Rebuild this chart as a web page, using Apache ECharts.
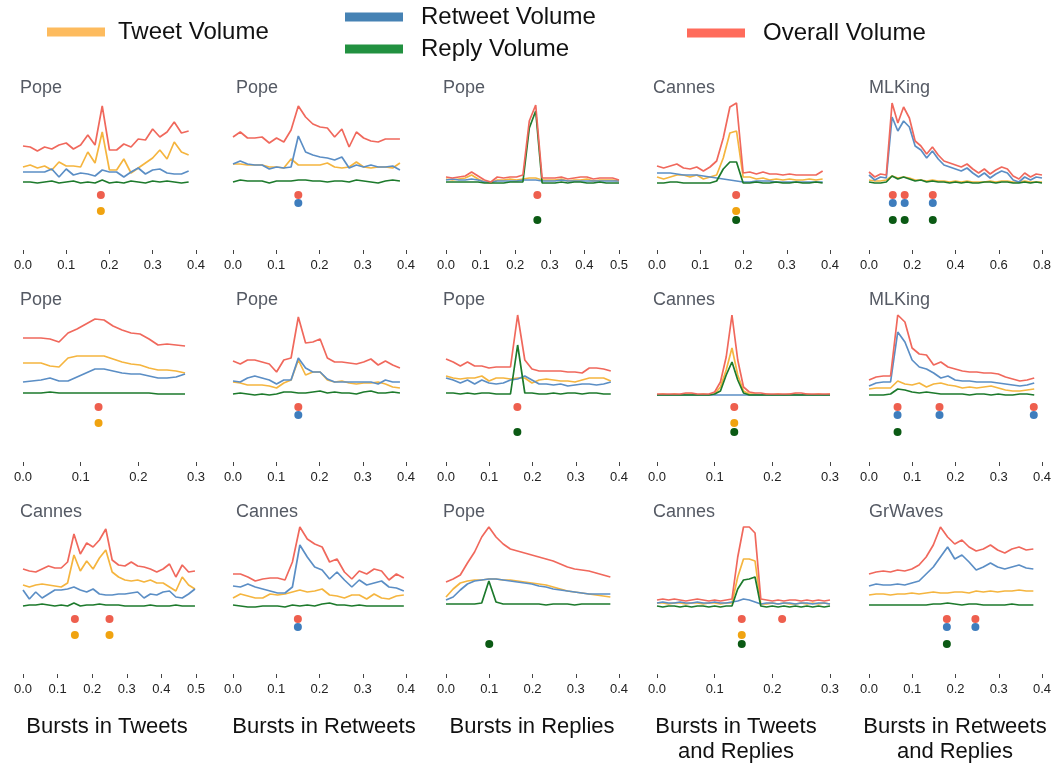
<!DOCTYPE html>
<html>
<head>
<meta charset="utf-8">
<script src="https://cdn.jsdelivr.net/npm/echarts@6/dist/echarts.min.js"></script>
<style>
html,body{margin:0;padding:0;background:#fff;}
#chart{width:1064px;height:765px;}
</style>
</head>
<body>
<div id="chart"></div>
<script>
// ---------------- DATA (volumes, arbitrary units) ----------------
const TOPICS = [
  ['Pope', 'Pope', 'Pope', 'Cannes', 'MLKing'],
  ['Pope', 'Pope', 'Pope', 'Cannes', 'MLKing'],
  ['Cannes', 'Cannes', 'Pope', 'Cannes', 'GrWaves']
];
const AXIS_MAX = [
  [0.4, 0.4, 0.5, 0.4, 0.8],
  [0.3, 0.4, 0.4, 0.3, 0.4],
  [0.5, 0.4, 0.4, 0.3, 0.4]
];
const AXIS_STEP = [
  [0.1, 0.1, 0.1, 0.1, 0.2],
  [0.1, 0.1, 0.1, 0.1, 0.1],
  [0.1, 0.1, 0.1, 0.1, 0.1]
];
// last observed time of each panel's series (series sampled evenly from 0)
const SPAN_END = [
  [0.383, 0.386, 0.5, 0.383, 0.8],
  [0.281, 0.386, 0.381, 0.3, 0.382],
  [0.497, 0.395, 0.38, 0.3, 0.38]
];
const COLUMN_LABELS = ['Bursts in Tweets', 'Bursts in Retweets', 'Bursts in Replies',
  'Bursts in Tweets\nand Replies', 'Bursts in Retweets\nand Replies'];
const SERIES_NAMES = ['Tweet Volume', 'Retweet Volume', 'Reply Volume', 'Overall Volume'];

// Row 1
const r1c1Tweet   = [16,18,15,17,13,21,17,17,16,31,20,51,13,13,24,10,15,20,25,33,24,41,31,28];
const r1c1Retweet = [11,11,11,11,14,6,14,8,10,9,7,13,11,11,6,11,15,9,13,14,10,9,9,12];
const r1c1Reply   = [1,1,0,1,2,0,1,2,0,1,0,3,0,1,0,2,1,0,2,1,2,1,0,1];
const r1c1Overall = [37,36,32,36,34,38,40,34,38,48,38,77,33,33,39,36,44,43,54,46,51,61,50,52];
const r1c1Bursts  = {overall:[0.18], tweet:[0.18], retweet:[], reply:[]};

const r1c2Tweet   = [19,19,18,18,18,16,16,15,24,18,18,18,18,20,16,15,16,21,16,15,16,16,15,20];
const r1c2Retweet = [19,22,19,18,18,14,16,15,16,47,31,28,26,25,23,26,15,18,16,18,16,16,17,13];
const r1c2Reply   = [1,3,2,2,2,0,2,2,2,3,3,2,2,1,2,2,1,3,2,1,0,2,3,2];
const r1c2Overall = [46,51,45,45,46,40,45,41,53,77,66,59,56,55,46,54,36,51,45,42,41,44,44,44];
const r1c2Bursts  = {overall:[0.151], tweet:[], retweet:[0.151], reply:[]};

const r1c3Tweet   = [4,3,4,5,8,4,1,0,3,3,4,3,4,5,5,3,3,3,4,2,3,3,4,2,3,3,3,2];
const r1c3Retweet = [3,4,3,3,4,3,1,1,2,2,2,2,3,3,3,2,2,2,3,2,2,2,2,2,2,2,2,2];
const r1c3Reply   = [1,1,1,1,1,1,0,0,0,0,1,1,1,55,72,0,0,0,1,0,1,1,0,0,1,0,0,0];
const r1c3Overall = [6,5,6,7,11,7,3,1,6,5,6,6,8,62,78,5,5,5,6,4,5,6,6,4,5,5,5,3];
const r1c3Bursts  = {overall:[0.264], tweet:[], retweet:[], reply:[0.264]};

const r1c4Tweet   = [6,4,6,8,8,6,8,4,6,8,25,50,52,6,6,4,5,3,4,3,4,3,3,4,3,4];
const r1c4Retweet = [10,10,10,9,8,8,8,7,6,5,4,3,2,1,1,2,2,2,1,1,1,1,1,1,1,1];
const r1c4Reply   = [0,0,1,1,0,0,0,0,0,2,14,21,21,0,0,1,0,0,1,0,0,1,0,0,1,0];
const r1c4Overall = [17,15,17,19,15,14,16,12,16,22,45,76,80,10,11,9,11,9,9,8,9,8,8,8,8,12];
const r1c4Bursts  = {overall:[0.183], tweet:[0.183], retweet:[], reply:[0.183]};

const r1c5Tweet   = [3,2,2,3,7,5,6,5,3,3,2,3,2,2,1,2,1,2,1,1,1,2,1,2,2,1,1,2,1,1,1];
const r1c5Retweet = [8,3,6,5,66,52,62,56,37,33,25,32,24,18,16,14,12,15,10,6,10,5,9,12,10,3,1,6,3,6,5];
const r1c5Reply   = [1,0,0,1,7,4,6,4,2,3,1,2,1,1,0,1,0,1,0,0,1,1,0,1,1,0,0,1,0,1,0];
const r1c5Overall = [11,6,9,8,80,60,76,65,42,37,29,36,28,22,20,18,16,19,14,10,14,9,13,16,14,7,4,10,6,9,8];
const r1c5Bursts  = {overall:[0.11,0.165,0.295], tweet:[], retweet:[0.11,0.165,0.295], reply:[0.11,0.165,0.295]};

// Row 2
const r2c1Tweet   = [32,32,32,29,28,37,39,39,39,39,36,33,31,30,27,25,25,24,22];
const r2c1Retweet = [13,14,15,17,14,14,18,22,26,26,24,22,21,21,19,17,17,18,21];
const r2c1Reply   = [2,2,2,3,2,2,2,2,2,2,2,2,2,2,2,1,1,1,1];
const r2c1Overall = [57,57,57,56,53,62,66,71,76,75,69,65,62,61,56,50,51,50,49];
const r2c1Bursts  = {overall:[0.131], tweet:[0.131], retweet:[], reply:[]};

const r2c2Tweet   = [13,12,10,10,10,9,7,12,15,35,20,23,23,15,13,14,12,11,12,12,13,11,8,7];
const r2c2Retweet = [14,13,17,19,17,15,11,15,15,37,27,23,23,16,13,13,13,13,13,13,11,15,13,13];
const r2c2Reply   = [1,2,1,0,1,0,1,3,3,2,2,3,4,2,3,2,2,1,3,4,2,2,3,2];
const r2c2Overall = [34,31,35,35,33,31,23,35,37,78,52,53,56,37,33,33,32,31,33,36,30,34,30,27];
const r2c2Bursts  = {overall:[0.151], tweet:[], retweet:[0.151], reply:[]};

const r2c3Tweet   = [19,17,16,17,17,19,14,17,17,16,17,17,12,15,16,15,14,14,13,15,17,17,17,14];
const r2c3Retweet = [17,15,12,15,11,15,12,11,12,15,16,19,15,11,11,10,11,9,10,11,11,10,11,13];
const r2c3Reply   = [2,2,1,2,1,2,2,1,1,1,50,2,2,1,1,2,1,2,2,1,2,2,1,1];
const r2c3Overall = [36,33,29,33,29,29,27,28,28,28,80,35,26,24,24,24,24,23,23,22,27,27,26,24];
const r2c3Bursts  = {overall:[0.165], tweet:[], retweet:[], reply:[0.165]};

const r2c4Tweet   = [0,1,0,1,0,1,1,0,1,0,1,8,25,47,20,4,1,1,0,1,0,1,0,1,1,0,1,0,1,0,1];
const r2c4Retweet = [0,0,0,0,0,0,0,0,0,0,0,0,0,0,0,0,0,0,0,0,0,0,0,0,0,0,0,0,0,0,0];
const r2c4Reply   = [0,0,0,0,0,0,0,0,0,0,1,4,20,33,15,2,0,0,0,0,0,0,0,0,0,0,0,0,0,0,0];
const r2c4Overall = [1,1,1,1,1,2,2,1,1,1,3,13,38,80,35,8,3,2,2,1,1,1,1,1,2,2,1,1,1,1,1];
const r2c4Bursts  = {overall:[0.134], tweet:[0.134], retweet:[], reply:[0.134]};

const r2c5Tweet   = [6,7,7,7,14,11,10,12,8,11,12,10,9,7,8,7,8,9,7,5,4,4,5,6];
const r2c5Retweet = [9,12,13,13,63,53,35,28,26,22,17,19,15,14,14,13,13,13,12,11,10,9,10,12];
const r2c5Reply   = [0,0,0,1,6,5,3,2,3,2,1,1,1,1,0,1,1,0,1,0,0,1,1,0];
const r2c5Overall = [15,18,19,19,80,73,47,41,40,30,33,28,26,24,23,23,22,22,21,18,16,14,15,17];
const r2c5Bursts  = {overall:[0.066,0.163,0.381], tweet:[], retweet:[0.066,0.163,0.381], reply:[0.066]};

// Row 3
const r3c1Tweet   = [22,20,22,23,22,21,20,24,52,36,46,38,49,57,35,30,27,26,27,25,27,24,24,20,16,30,22,18];
const r3c1Retweet = [17,8,15,9,13,17,17,18,20,17,15,18,13,12,12,13,13,14,15,9,13,12,15,16,10,9,13,18];
const r3c1Reply   = [1,2,2,3,2,1,2,1,4,1,2,2,3,2,2,2,1,1,1,1,2,1,1,1,2,1,1,1];
const r3c1Overall = [38,36,35,38,41,39,39,45,73,53,64,60,67,78,47,42,41,45,41,40,38,35,38,43,30,42,35,36];
const r3c1Bursts  = {overall:[0.15,0.25], tweet:[0.15,0.25], retweet:[], reply:[]};

const r3c2Tweet   = [9,13,11,9,9,13,12,13,15,17,15,16,18,12,11,9,12,12,8,13,9,8,11,12];
const r3c2Retweet = [21,20,23,20,18,16,14,14,20,62,50,40,37,28,35,27,20,27,22,24,26,20,19,16];
const r3c2Reply   = [2,1,0,0,1,1,1,0,2,1,2,1,3,4,2,2,1,2,1,1,1,1,1,1];
const r3c2Overall = [33,33,30,26,28,29,29,27,45,80,68,63,60,45,48,35,28,36,33,38,36,27,33,29];
const r3c2Bursts  = {overall:[0.15], tweet:[], retweet:[0.15], reply:[]};

const r3c3Tweet   = [10,18,24,26,27,27,28,28,27,27,26,25,24,23,22,20,18,16,15,14,13,12,11,10];
const r3c3Retweet = [7,10,17,23,26,27,28,28,27,26,25,24,23,21,20,18,17,16,15,14,13,13,13,13];
const r3c3Reply   = [3,3,3,3,3,4,26,5,3,3,3,3,3,3,2,3,3,3,2,3,3,3,3,3];
const r3c3Overall = [25,28,32,44,55,70,80,70,63,58,56,54,52,50,48,46,43,40,38,37,36,34,32,30];
const r3c3Bursts  = {overall:[], tweet:[], retweet:[], reply:[0.1]};

const r3c4Tweet   = [4,4,3,4,4,3,4,4,3,4,4,3,4,4,30,48,48,46,3,3,4,3,4,3,3,4,3,4,3,4,3];
const r3c4Retweet = [4,5,4,4,5,4,4,5,4,4,5,4,4,5,6,8,7,5,3,4,4,3,4,4,3,4,4,3,4,4,3];
const r3c4Reply   = [1,0,1,1,0,1,0,1,1,0,1,0,1,1,18,27,28,30,1,0,1,0,1,0,1,0,1,0,1,0,1];
const r3c4Overall = [7,8,7,8,7,6,7,8,7,6,7,6,7,8,50,80,80,74,8,7,6,7,6,7,7,6,7,6,7,6,7];
const r3c4Bursts  = {overall:[0.147,0.217], tweet:[0.147], retweet:[], reply:[0.147]};

const r3c5Tweet   = [12,13,13,12,13,13,14,13,14,15,14,14,15,15,14,16,15,16,15,16,16,17,16,16];
const r3c5Retweet = [21,23,22,22,23,22,24,26,33,40,50,60,48,52,45,37,40,44,40,38,40,42,39,38];
const r3c5Reply   = [2,2,2,2,2,2,2,2,2,3,3,4,3,2,3,3,2,2,2,2,3,2,2,2];
const r3c5Overall = [33,35,36,35,37,36,38,42,50,62,80,70,63,67,60,56,58,62,57,54,58,60,57,58];
const r3c5Bursts  = {overall:[0.18,0.246], tweet:[], retweet:[0.18,0.246], reply:[0.18]};

const PANELS = [
  [r1c1Tweet, r1c1Retweet, r1c1Reply, r1c1Overall, r1c1Bursts],
  [r1c2Tweet, r1c2Retweet, r1c2Reply, r1c2Overall, r1c2Bursts],
  [r1c3Tweet, r1c3Retweet, r1c3Reply, r1c3Overall, r1c3Bursts],
  [r1c4Tweet, r1c4Retweet, r1c4Reply, r1c4Overall, r1c4Bursts],
  [r1c5Tweet, r1c5Retweet, r1c5Reply, r1c5Overall, r1c5Bursts],
  [r2c1Tweet, r2c1Retweet, r2c1Reply, r2c1Overall, r2c1Bursts],
  [r2c2Tweet, r2c2Retweet, r2c2Reply, r2c2Overall, r2c2Bursts],
  [r2c3Tweet, r2c3Retweet, r2c3Reply, r2c3Overall, r2c3Bursts],
  [r2c4Tweet, r2c4Retweet, r2c4Reply, r2c4Overall, r2c4Bursts],
  [r2c5Tweet, r2c5Retweet, r2c5Reply, r2c5Overall, r2c5Bursts],
  [r3c1Tweet, r3c1Retweet, r3c1Reply, r3c1Overall, r3c1Bursts],
  [r3c2Tweet, r3c2Retweet, r3c2Reply, r3c2Overall, r3c2Bursts],
  [r3c3Tweet, r3c3Retweet, r3c3Reply, r3c3Overall, r3c3Bursts],
  [r3c4Tweet, r3c4Retweet, r3c4Reply, r3c4Overall, r3c4Bursts],
  [r3c5Tweet, r3c5Retweet, r3c5Reply, r3c5Overall, r3c5Bursts]
];

// ---------------- STYLE / LAYOUT ----------------
const FONT = "'Liberation Sans', Arial, Helvetica, sans-serif";
const LINE_COLORS = ['#f5b53f', '#5b8ec5', '#1d7a2c', '#f0685c'];
const LEGEND_COLORS = ['#fdbb5e', '#4682b4', '#229140', '#ff6b5b'];
const DOT_COLORS = {overall:'#ee5f4e', tweet:'#f0a310', retweet:'#3e7dbd', reply:'#0b5a14'};
const DOT_LEVEL = {overall:-12, retweet:-20, tweet:-28, reply:-37}; // rows of burst markers below the lines
const DOT_SERIES = {overall:'Overall Volume', retweet:'Retweet Volume', tweet:'Tweet Volume', reply:'Reply Volume'};
const COL_LEFT = [23, 233, 446, 657, 869];
const TITLE_LEFT = [20, 236, 443, 653, 869];
const ROW_STEP = 212;
const GRID_W = 173, GRID_TOP0 = 98, GRID_H = 152;
const Y_MIN = -67, Y_MAX = 85;

const grid = [], xAxis = [], yAxis = [], series = [], title = [];
for (let r = 0; r < 3; r++) {
  for (let c = 0; c < 5; c++) {
    const idx = r * 5 + c;
    grid.push({left: COL_LEFT[c], top: GRID_TOP0 + ROW_STEP * r, width: GRID_W, height: GRID_H});
    xAxis.push({
      type: 'value', gridIndex: idx, min: 0, max: AXIS_MAX[r][c], interval: AXIS_STEP[r][c],
      position: 'bottom',
      axisLine: {show: false, onZero: false},
      axisTick: {show: true, length: 4, lineStyle: {color: '#444', width: 1}},
      splitLine: {show: false},
      axisLabel: {margin: 9, fontSize: 13, color: '#222', fontFamily: FONT,
        formatter: v => v.toFixed(1)}
    });
    yAxis.push({type: 'value', gridIndex: idx, min: Y_MIN, max: Y_MAX, show: false});
    title.push({
      text: TOPICS[r][c], left: TITLE_LEFT[c], top: 79 + ROW_STEP * r, padding: 0,
      textStyle: {fontSize: 18, fontWeight: 'normal', color: '#555a64', fontFamily: FONT}
    });
    const p = PANELS[idx];
    const end = SPAN_END[r][c];
    for (let k = 0; k < 4; k++) {
      const vals = p[k];
      const n = vals.length;
      series.push({
        type: 'line', name: SERIES_NAMES[k], xAxisIndex: idx, yAxisIndex: idx,
        data: vals.map((v, i) => [end * i / (n - 1), v]),
        showSymbol: false, symbol: 'none', silent: true,
        lineStyle: {color: LINE_COLORS[k], width: 1.7},
        itemStyle: {color: LINE_COLORS[k]},
        z: 2 + k
      });
    }
    const b = p[4];
    ['overall', 'retweet', 'tweet', 'reply'].forEach(key => {
      if (!b[key].length) return;
      series.push({
        type: 'scatter', name: DOT_SERIES[key], xAxisIndex: idx, yAxisIndex: idx,
        data: b[key].map(x => [x, DOT_LEVEL[key]]),
        symbolSize: 8, silent: true,
        itemStyle: {color: DOT_COLORS[key], opacity: 1},
        z: 10
      });
    });
  }
}

function legendFor(k, left, top, gap) {
  return {
    left: left, top: top, padding: 0, orient: 'horizontal',
    icon: 'rect', itemWidth: 58, itemHeight: 9,
    data: [{name: SERIES_NAMES[k], itemStyle: {color: LEGEND_COLORS[k]}}],
    textStyle: {fontSize: 24, color: '#111', fontFamily: FONT, padding: [0, 0, 0, gap]}
  };
}

const graphic = COLUMN_LABELS.map((t, i) => ({
  type: 'text',
  x: [107, 324, 532, 736, 955][i], y: 714,
  style: {text: t, font: '22px ' + FONT, fill: '#111', align: 'center', verticalAlign: 'top', lineHeight: 25}
}));

const chart = echarts.init(document.getElementById('chart'), null, {renderer: 'canvas'});
chart.setOption({
  animation: false,
  backgroundColor: '#ffffff',
  textStyle: {fontFamily: FONT},
  title: title,
  legend: [
    legendFor(0, 47, 20, 8),
    legendFor(1, 345, 5, 13),
    legendFor(2, 345, 37, 13),
    legendFor(3, 687, 21, 13)
  ],
  grid: grid,
  xAxis: xAxis,
  yAxis: yAxis,
  series: series,
  graphic: graphic
});
</script>
</body>
</html>
